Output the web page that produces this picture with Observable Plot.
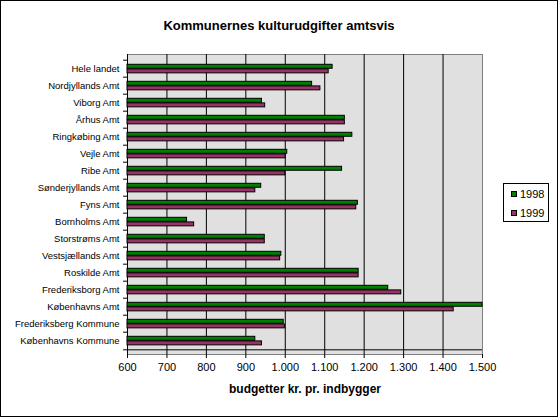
<!DOCTYPE html>
<html><head><meta charset="utf-8">
<script src="https://cdn.jsdelivr.net/npm/d3@7"></script>
<script src="https://cdn.jsdelivr.net/npm/@observablehq/plot@0.6"></script>
<style>
html,body{margin:0;padding:0;background:#fff;}
#chart{position:relative;width:556px;height:415px;border:1px solid #000;font-family:"Liberation Sans",Arial,sans-serif;overflow:hidden;background:#fff}
#title{position:absolute;left:0;width:556px;top:17px;line-height:15px;text-align:center;font-weight:bold;font-size:13px;color:#000}
#legend{position:absolute;left:502px;top:182px;width:44px;height:37px;border:1px solid #000;background:#fff;font-size:11px;color:#000}
#legend .item{position:absolute;left:7px;height:14px;line-height:14px;display:flex;align-items:center}
#legend .sw{width:4px;height:4px;border:1px solid #000;margin-right:3px}
#chart svg{position:absolute;left:0;top:0}
</style>
</head><body>
<div id="chart"><div id="title"></div><div id="legend"></div></div>
<script>
const title = "Kommunernes kulturudgifter amtsvis";
const xLabel = "budgetter kr. pr. indbygger";
const categories = ["Hele landet","Nordjyllands Amt","Viborg Amt","Århus Amt","Ringkøbing Amt","Vejle Amt","Ribe Amt","Sønderjyllands Amt","Fyns Amt","Bornholms Amt","Storstrøms Amt","Vestsjællands Amt","Roskilde Amt","Frederiksborg Amt","Københavns Amt","Frederiksberg Kommune","Københavns Kommune"];
const series = ["1998","1999"];
const v1998 = [1120,1068,941,1151,1170,1005,1144,939,1184,751,948,990,1186,1261,1500,996,924];
const v1999 = [1110,1089,949,1151,1149,1001,1000,924,1180,769,948,987,1186,1294,1427,999,941];
const xTicks = [600,700,800,900,1000,1100,1200,1300,1400,1500];
const colors = ["#008000","#993366"];

document.getElementById("title").textContent = title;
const legend = document.getElementById("legend");
series.forEach((s,i)=>{
  const it = document.createElement("div");
  it.className = "item";
  it.style.top = (3 + i*19) + "px";
  it.innerHTML = `<span class="sw" style="background:${colors[i]}"></span><span>${s}</span>`;
  legend.appendChild(it);
});

const fmt = d3.formatLocale({decimal:",", thousands:".", grouping:[3], currency:["",""]}).format(",");
const rows1998 = categories.map((c,i)=>({cat:c, v:v1998[i]}));
const rows1999 = categories.map((c,i)=>({cat:c, v:v1999[i]}));
const H = 415, mT = 53, mB = 62;
const step = (H - mT - mB) / categories.length;
const xMin = xTicks[0], xMax = xTicks[xTicks.length-1];

const plot = Plot.plot({
  width: 556, height: H,
  marginTop: mT, marginBottom: mB, marginLeft: 126, marginRight: 75,
  x: {domain: [xMin, xMax]},
  y: {domain: categories, padding: 0},
  style: {fontFamily: "'Liberation Sans', Arial, sans-serif", color: "black", background: "transparent", overflow: "visible"},
  marks: [
    Plot.frame({fill: "#e0e0e0", stroke: "#808080"}),
    Plot.ruleX(xTicks.slice(1, -1), {stroke: "black"}),
    Plot.ruleX([xMin], {stroke: "black"}),
    Plot.ruleY([categories[categories.length-1]], {x1: xMin, x2: xMax, dy: step/2, stroke: "black"}),
    Plot.ruleY(categories, {y: d => d, x1: xMin - 10, x2: xMin, dy: -step/2, stroke: "black"}),
    Plot.ruleY([categories[categories.length-1]], {x1: xMin - 10, x2: xMin, dy: step/2, stroke: "black"}),
    Plot.barX(rows1998, {y: "cat", x1: xMin, x2: "v", fill: colors[0], stroke: "black", strokeWidth: 1, insetTop: 4.3, insetBottom: step - 4.3 - 4.6}),
    Plot.barX(rows1999, {y: "cat", x1: xMin, x2: "v", fill: colors[1], stroke: "black", strokeWidth: 1, insetTop: 8.9, insetBottom: step - 8.9 - 4.6}),
    Plot.axisX({ticks: xTicks, tickFormat: fmt, tickSize: 4, tickPadding: 5, fontSize: 11, label: null}),
    Plot.axisY({tickSize: 0, tickPadding: 8, fontSize: 9.5, label: null}),
    Plot.text([xLabel], {frameAnchor: "bottom", dy: 38, fontWeight: "bold", fontSize: 12, fill: "black"})
  ]
});
document.getElementById("chart").appendChild(plot);
</script>
</body></html>
